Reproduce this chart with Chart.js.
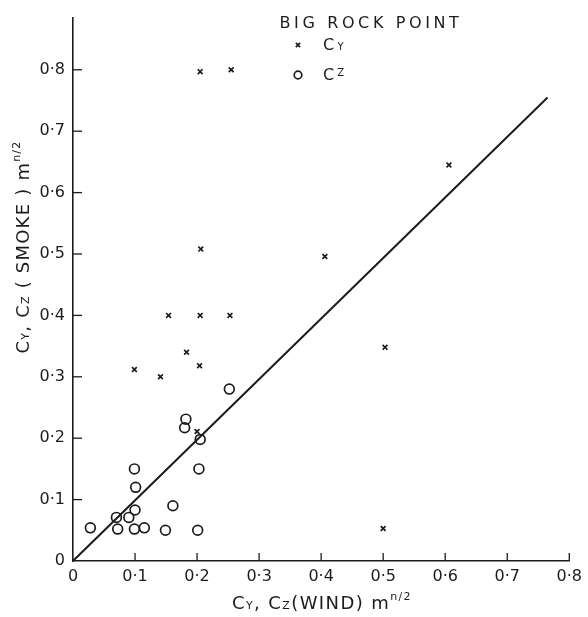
<!DOCTYPE html>
<html><head><meta charset="utf-8">
<script src="https://cdn.jsdelivr.net/npm/chart.js@4/dist/chart.umd.min.js"></script>
<style>html,body{margin:0;padding:0;background:#fff;}#wrap{width:588px;height:617px;}</style>
</head><body><div id="wrap"><canvas id="c" width="588" height="617"></canvas></div>
<script>
// ---- data ----
const chartTitle = 'BIG ROCK POINT';
const seriesNames = ['Cy', 'Cz'];
const cyX = [0.205, 0.255, 0.206, 0.406, 0.606, 0.503, 0.500, 0.154, 0.205, 0.253, 0.183, 0.204, 0.099, 0.141, 0.200];
const cyY = [0.797, 0.800, 0.508, 0.496, 0.645, 0.348, 0.053, 0.400, 0.400, 0.400, 0.340, 0.318, 0.312, 0.300, 0.211];
const czX = [0.028, 0.070, 0.072, 0.090, 0.099, 0.115, 0.100, 0.101, 0.099, 0.149, 0.161, 0.182, 0.180, 0.205, 0.203, 0.201, 0.252];
const czY = [0.054, 0.071, 0.052, 0.071, 0.052, 0.054, 0.083, 0.120, 0.150, 0.050, 0.090, 0.231, 0.217, 0.198, 0.150, 0.050, 0.280];
const fitX = [0, 0.765];
const fitY = [0, 0.755];
const xTickValues = [0, 0.1, 0.2, 0.3, 0.4, 0.5, 0.6, 0.7, 0.8];
const xTickLabels = ['0', '0·1', '0·2', '0·3', '0·4', '0·5', '0·6', '0·7', '0·8'];
const yTickValues = [0, 0.1, 0.2, 0.3, 0.4, 0.5, 0.6, 0.7, 0.8];
const yTickLabels = ['0', '0·1', '0·2', '0·3', '0·4', '0·5', '0·6', '0·7', '0·8'];
const xRange = [0, 0.8];
const yRange = [0, 0.885];

// ---- styling ----
const INK = '#1c1c1c';
const FONT = 'DejaVu Sans';

function pts(xs, ys) { return xs.map((x, i) => ({ x: x, y: ys[i] })); }

function setFont(ctx, size) { ctx.font = size + 'px "' + FONT + '"'; }
function segWidth(ctx, segs, ls) {
  let w = 0;
  for (const s of segs) { setFont(ctx, s.f); ctx.letterSpacing = ls + 'px'; w += ctx.measureText(s.t).width; }
  return w;
}
// draws rich text (sub/superscripts) centred on (cx, cy), stretched to a target width
function drawRich(ctx, segs, cx, cy, target, rot) {
  ctx.save();
  ctx.translate(cx, cy);
  if (rot) ctx.rotate(rot);
  let nChars = 0; segs.forEach(s => nChars += s.t.length);
  const w0 = segWidth(ctx, segs, 0);
  const ls = target ? Math.max(0, (target - w0) / nChars) : 0;
  const w = segWidth(ctx, segs, ls);
  let x = -w / 2;
  ctx.fillStyle = INK;
  ctx.textBaseline = 'alphabetic';
  ctx.textAlign = 'left';
  for (const s of segs) {
    setFont(ctx, s.f); ctx.letterSpacing = ls + 'px';
    ctx.fillText(s.t, x, 6 + (s.dy || 0));
    x += ctx.measureText(s.t).width;
  }
  ctx.restore();
}

const decor = {
  id: 'decor',
  afterDatasetsDraw(chart) {
    const ctx = chart.ctx;
    const xs = chart.scales.x, ys = chart.scales.y;
    const a = chart.chartArea;
    // inward tick marks
    ctx.save();
    ctx.strokeStyle = INK; ctx.lineWidth = 1.3;
    xs.ticks.forEach(t => {
      if (t.value === 0) return;
      const px = xs.getPixelForValue(t.value);
      ctx.beginPath(); ctx.moveTo(px, a.bottom); ctx.lineTo(px, a.bottom - 8); ctx.stroke();
    });
    ys.ticks.forEach(t => {
      if (t.value === 0) return;
      const py = ys.getPixelForValue(t.value);
      ctx.beginPath(); ctx.moveTo(a.left, py); ctx.lineTo(a.left + 9, py); ctx.stroke();
    });
    ctx.restore();

    // axis titles
    const big = 18, small = 11;
    drawRich(ctx, [
      { t: 'C', f: big }, { t: 'Y', f: small }, { t: ', ', f: big },
      { t: 'C', f: big }, { t: 'Z', f: small }, { t: '(WIND) m', f: big },
      { t: 'n/2', f: small, dy: -9 }
    ], 322, 603, 180, 0);
    drawRich(ctx, [
      { t: 'C', f: big }, { t: 'Y', f: small }, { t: ', ', f: big },
      { t: 'C', f: big }, { t: 'Z', f: small }, { t: ' ( SMOKE ) m', f: big },
      { t: 'n/2', f: small, dy: -9 }
    ], 23, 247, 213, -Math.PI / 2);

    // legend block
    drawRich(ctx, [{ t: chartTitle, f: 16 }], 371, 22, 183, 0);
    const ds = chart.data.datasets;
    const rows = [
      { d: ds[1], y: 45, segs: [{ t: 'C', f: 16 }, { t: 'Y', f: 10 }] },
      { d: ds[2], y: 75, segs: [{ t: 'C', f: 16 }, { t: 'Z', f: 10, dy: -4 }] }
    ];
    rows.forEach(r => {
      ctx.save();
      ctx.strokeStyle = INK; ctx.fillStyle = 'rgba(0,0,0,0)';
      ctx.lineWidth = r.d.borderWidth;
      Chart.helpers.drawPoint(ctx, {
        pointStyle: r.d.pointStyle, radius: r.d.pointStyle === 'circle' ? 3.8 : 3,
        borderWidth: r.d.borderWidth, rotation: 0
      }, 298, r.y);
      ctx.restore();
      drawRich(ctx, r.segs, 335, r.y - 1, 24, 0);
    });
  }
};

new Chart(document.getElementById('c'), {
  type: 'scatter',
  data: {
    datasets: [
      { label: 'fit', type: 'line', data: pts(fitX, fitY), showLine: true, borderColor: INK,
        borderWidth: 2, pointRadius: 0, fill: false, order: 3 },
      { label: seriesNames[0], data: pts(cyX, cyY), pointStyle: 'crossRot', pointRadius: 3.4,
        borderColor: INK, backgroundColor: INK, borderWidth: 1.7, order: 1 },
      { label: seriesNames[1], data: pts(czX, czY), pointStyle: 'circle', pointRadius: 4.9,
        borderColor: INK, backgroundColor: 'rgba(0,0,0,0)', borderWidth: 1.7, order: 2 }
    ]
  },
  options: {
    responsive: false, animation: false, devicePixelRatio: 1,
    layout: { padding: { top: 8, right: 15, left: 0, bottom: 0 } },
    plugins: { legend: { display: false }, tooltip: { enabled: false }, title: { display: false } },
    scales: {
      x: {
        type: 'linear', min: xRange[0], max: xRange[1],
        afterFit: s => { s.height = 56; },
        afterBuildTicks: s => { s.ticks = xTickValues.map(v => ({ value: v })); },
        grid: { display: false, drawTicks: false },
        border: { display: true, color: INK, width: 1.6 },
        ticks: { padding: 6, color: INK, font: { family: FONT, size: 16 },
          callback: (v, i) => xTickLabels[i] }
      },
      y: {
        type: 'linear', min: yRange[0], max: yRange[1],
        afterFit: s => { s.width = 73; },
        afterBuildTicks: s => { s.ticks = yTickValues.map(v => ({ value: v })); },
        grid: { display: false, drawTicks: false },
        border: { display: true, color: INK, width: 1.6 },
        ticks: { padding: 8, color: INK, font: { family: FONT, size: 16 },
          callback: (v, i) => yTickLabels[i] }
      }
    }
  },
  plugins: [decor]
});
</script>
</body></html>
